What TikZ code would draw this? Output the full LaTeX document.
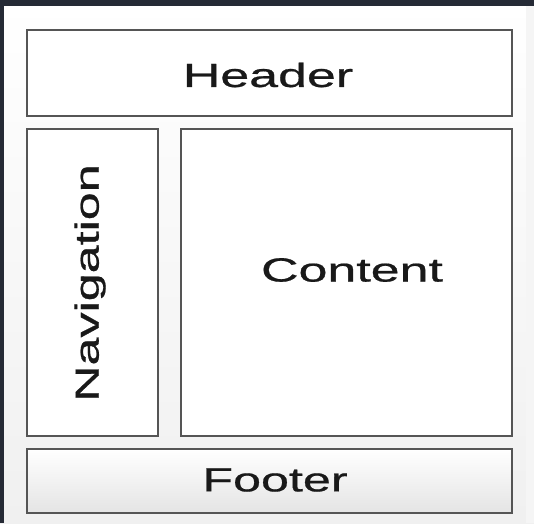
\documentclass[tikz,border=0pt]{standalone}
\usepackage{fontspec}
\setmainfont{Liberation Sans}
\newfontfamily\lblfont[FakeBold=0.6]{Liberation Sans}
\usepackage{graphicx}
\definecolor{frame}{HTML}{252A35}
\definecolor{boxline}{HTML}{555555}
\definecolor{footbot}{HTML}{E4E4E4}
\definecolor{bgbot}{HTML}{F0F0F0}
\begin{document}
\begin{tikzpicture}[x=1pt,y=-1pt,
  panel/.style={draw=boxline,line width=1.8pt},
  lbl/.style={font=\lblfont\fontsize{33.5}{36}\selectfont,text=black!90,inner sep=0pt}]
\useasboundingbox (0,0) rectangle (534,523);
% background
\shade[top color=white,bottom color=bgbot] (0,0) rectangle (534,523);
\fill[frame] (0,0) rectangle (534,6);
\fill[frame] (0,0) rectangle (4,523);
\fill[black!4] (526,6) rectangle (534,523);
% panels
\draw[panel,fill=white] (27,30) rectangle (512,116);
\draw[panel,fill=white] (27,129) rectangle (158,436);
\draw[panel,fill=white] (181,129) rectangle (512,436);
\draw[panel,top color=white,bottom color=footbot] (27,449) rectangle (512,513);
% labels
\node[lbl] (header) at (268,75) {\scalebox{1.55}[1]{Header}};
\node[lbl,rotate=90] (nav) at (90,283) {\scalebox{1.5}[1]{Navigation}};
\node[lbl] (content) at (352,270) {\scalebox{1.55}[1]{Content}};
\node[lbl] (footer) at (275,480) {\scalebox{1.5}[1]{Footer}};
\end{tikzpicture}
\end{document}
